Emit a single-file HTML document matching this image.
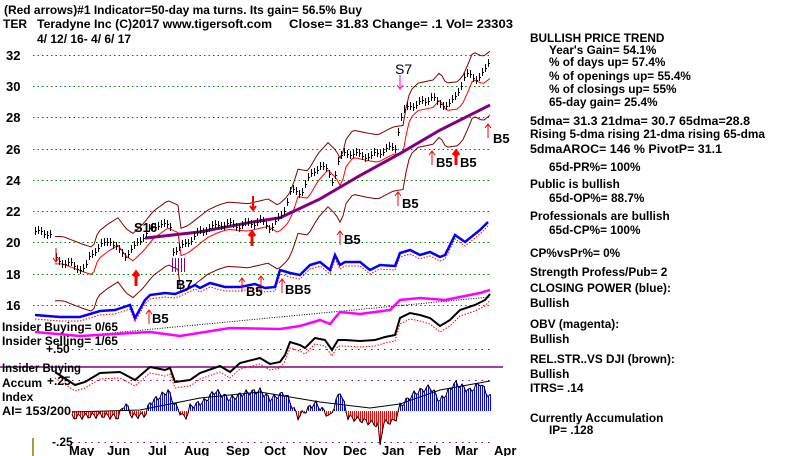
<!DOCTYPE html>
<html><head><meta charset="utf-8"><style>
body{margin:0;background:#fff;}
svg{display:block;font-family:"Liberation Sans",Arial,sans-serif;font-weight:bold;}
.r text{font-size:11.8px;}
</style></head><body>
<svg id="s" width="800" height="456" viewBox="0 0 800 456" xmlns="http://www.w3.org/2000/svg">
<rect width="800" height="456" fill="#fff"/>
<g font-size="12" fill="#000">
<text x="4" y="14" textLength="358" lengthAdjust="spacingAndGlyphs">(Red arrows)#1 Indicator=50-day ma turns. Its gain= 56.5% Buy</text>
<text x="3" y="28">TER</text><text x="37" y="28" textLength="235" lengthAdjust="spacingAndGlyphs">Teradyne Inc  (C)2017 www.tigersoft.com</text>
<text x="289" y="28" textLength="224" lengthAdjust="spacingAndGlyphs">Close=  31.83  Change= .1 Vol= 23303</text>
<text x="37" y="43">4/ 12/ 16- 4/ 6/ 17</text>
</g>
<g font-size="13" fill="#000">
<text x="6" y="60">32</text><text x="6" y="91">30</text><text x="6" y="122">28</text><text x="6" y="154">26</text>
<text x="6" y="185">24</text><text x="6" y="216">22</text><text x="6" y="247">20</text><text x="6" y="279">18</text><text x="6" y="310">16</text>
</g>
<g stroke="#008000" stroke-dasharray="1.5 3" stroke-width="1">
<line x1="33" x2="492" y1="55.5" y2="55.5"/><line x1="33" x2="492" y1="86.5" y2="86.5"/><line x1="33" x2="492" y1="117.5" y2="117.5"/>
<line x1="33" x2="492" y1="149.5" y2="149.5"/><line x1="33" x2="492" y1="180.5" y2="180.5"/><line x1="33" x2="492" y1="211.5" y2="211.5"/>
<line x1="33" x2="492" y1="242.5" y2="242.5"/><line x1="33" x2="492" y1="274.5" y2="274.5"/><line x1="33" x2="492" y1="305.5" y2="305.5"/>
</g>
<g stroke="#800080" stroke-dasharray="1.5 5"><line x1="72" x2="492" y1="349.5" y2="349.5"/><line x1="72" x2="492" y1="380.5" y2="380.5"/><line x1="72" x2="492" y1="442.5" y2="442.5"/></g>
<line x1="0" x2="503" y1="367" y2="367" stroke="#800080" stroke-width="1.5"/>
<line x1="33" x2="33" y1="438" y2="456" stroke="#808000" stroke-width="1.5"/>
<g id="dyn"></g>
<g font-size="12" fill="#000">
<text x="2" y="331" textLength="116" lengthAdjust="spacingAndGlyphs">Insider Buying= 0/65</text>
<text x="2" y="345" textLength="116" lengthAdjust="spacingAndGlyphs">Insider Selling= 1/65</text>
<text x="46" y="353">+.50</text>
<text x="2" y="372" textLength="79" lengthAdjust="spacingAndGlyphs">Insider Buying</text>
<text x="2" y="387">Accum</text><text x="47" y="385">+.25</text>
<text x="2" y="401">Index</text>
<text x="2" y="415" textLength="69" lengthAdjust="spacingAndGlyphs">AI= 153/200</text>
<text x="52" y="446">-.25</text>
</g>
<g font-size="13" fill="#000">
<text x="69" y="455">May</text><text x="107" y="455">Jun</text><text x="148" y="455">Jul</text><text x="184" y="455">Aug</text>
<text x="226" y="455">Sep</text><text x="264" y="455">Oct</text><text x="303" y="455">Nov</text><text x="343" y="455">Dec</text>
<text x="382" y="455">Jan</text><text x="418" y="455">Feb</text><text x="455" y="455">Mar</text><text x="494" y="455">Apr</text>
<text x="134" y="232">S16</text><text x="176" y="289">B7</text><text x="246" y="296">B5</text><text x="285" y="294">BB5</text>
<text x="152" y="323">B5</text><text x="344" y="244">B5</text><text x="402" y="208">B5</text>
<text x="436" y="167">B5</text><text x="460" y="167">B5</text><text x="493" y="143">B5</text>
<text x="395" y="74" font-size="14" font-weight="normal">S7</text>
</g>
<g class="r" fill="#000">
<text x="530" y="42">BULLISH PRICE TREND</text>
<text x="549" y="54">Year's Gain= 54.1%</text>
<text x="549" y="66">% of days up= 57.4%</text>
<text x="549" y="80">% of openings up= 55.4%</text>
<text x="549" y="93">% of closings up= 55%</text>
<text x="549" y="106">65-day gain= 25.4%</text>
<text x="530" y="125" textLength="220" lengthAdjust="spacingAndGlyphs">5dma= 31.3 21dma= 30.7 65dma=28.8</text>
<text x="530" y="138" textLength="235" lengthAdjust="spacingAndGlyphs">Rising 5-dma rising 21-dma rising 65-dma</text>
<text x="530" y="153" textLength="192" lengthAdjust="spacingAndGlyphs">5dmaAROC= 146 %  PivotP= 31.1</text>
<text x="549" y="171">65d-PR%= 100%</text>
<text x="530" y="188">Public is bullish</text>
<text x="549" y="202">65d-OP%= 88.7%</text>
<text x="530" y="220">Professionals are bullish</text>
<text x="549" y="234">65d-CP%= 100%</text>
<text x="530" y="257">CP%vsPr%=  0%</text>
<text x="530" y="276">Strength Profess/Pub= 2</text>
<text x="530" y="292">CLOSING POWER (blue):</text>
<text x="530" y="307">Bullish</text>
<text x="530" y="328">OBV (magenta):</text>
<text x="530" y="343">Bullish</text>
<text x="530" y="363">REL.STR..VS DJI (brown):</text>
<text x="530" y="378">Bullish</text>
<text x="530" y="392">ITRS= .14</text>
<text x="530" y="422">Currently Accumulation</text>
<text x="549" y="434">IP=  .128</text>
</g>
</svg>
<script>
var NS="http://www.w3.org/2000/svg",g=document.getElementById("dyn");
function el(t,a){var e=document.createElementNS(NS,t);for(var k in a)e.setAttribute(k,a[k]);g.appendChild(e);return e;}
function interp(pts,x){for(var i=0;i<pts.length-1;i++){if(x>=pts[i][0]&&x<=pts[i+1][0]){var t=(x-pts[i][0])/(pts[i+1][0]-pts[i][0]);return pts[i][1]+t*(pts[i+1][1]-pts[i][1]);}}return pts[pts.length-1][1];}
function line(pts,c,w,d){el("polyline",{points:pts.map(p=>p.join(",")).join(" "),fill:"none",stroke:c,"stroke-width":w,"stroke-dasharray":d||""});}
function py(p){return 55+(32-p)*15.65;}
var price=[[35,20.7],[52,20.6],[55,19],[75,18.5],[85,18.3],[90,19.3],[100,19.8],[110,20.2],[118,19.5],[125,19.2],[130,19.5],[135,19.8],[145,20.6],[160,21.3],[170,21],[172,19.5],[180,19.7],[190,20.2],[200,20.7],[210,21],[220,21.2],[240,21.1],[260,21.4],[270,21.0],[280,21.6],[285,22.3],[290,23.3],[300,23.2],[310,24.3],[320,25],[328,24.5],[333,23.9],[338,25.2],[345,25.8],[360,25.6],[370,25.5],[385,26],[395,26.1],[398,27.2],[402,28.3],[410,28.8],[425,29],[432,29.5],[438,28.8],[450,28.9],[455,29.3],[460,30],[465,30.8],[475,30.5],[485,31],[490,31.8]];
var up=[],lo=[],ma21=[];
for(var x=55;x<=490;x+=3){var q=interp(price,Math.max(55,x-8));
ma21.push([x,py(q-0.35)]);up.push([x,py(q+1.4)]);lo.push([x,py(q-2.7)]);}
line(up,"#800000",1);line(lo,"#800000",1);line(ma21,"#ff0000",1);
var m65=[[145,20.3],[200,20.7],[250,21.3],[280,21.6],[320,22.8],[360,24.3],[400,25.7],[440,27.2],[490,28.8]];
line(m65.map(p=>[p[0],py(p[1])]),"#800080",3);
for(var x=35;x<=490;x+=3){if(x>52&&x<56)continue;var p=interp(price,x)+Math.sin(x*1.7)*0.15;var y=Math.round(py(p));
el("line",{x1:x+.5,x2:x+.5,y1:y-4,y2:y+4,stroke:"#000","stroke-width":1});el("line",{x1:x,x2:x+2,y1:y+.5,y2:y+.5,stroke:"#000"});}
var blue=[[35,315],[60,317],[80,317],[100,311],[115,310],[130,305],[135,318],[145,300],[150,295],[165,293],[175,294],[185,290],[195,285],[200,288],[210,283],[225,287],[240,287],[255,284],[265,288],[275,287],[280,270],[290,273],[300,275],[310,265],[320,262],[330,270],[335,255],[340,265],[345,262],[360,262],[370,270],[380,265],[395,266],[400,253],[410,250],[420,255],[430,252],[440,257],[445,255],[455,235],[465,242],[480,230],[488,222]];
line(blue.map(p=>[p[0],p[1]+4]),"#ff0000",1,"1.5 1.5");line(blue,"#0000ff",2.5);
var mag=[[35,332],[80,336],[150,332],[180,336],[230,328],[280,329],[300,326],[320,320],[330,324],[340,312],[360,314],[390,310],[400,300],[420,298],[445,300],[480,293],[490,290]];
line([[80,336],[490,297]],"#000",1,"1 1.5");line(mag,"#ff00ff",2.5);
var blk=[[55,372],[75,385],[85,382],[100,373],[120,372],[135,380],[150,367],[165,370],[170,368],[175,382],[190,380],[200,373],[220,366],[230,372],[240,363],[260,358],[270,364],[280,362],[285,355],[290,342],[300,345],[305,348],[315,338],[325,340],[332,350],[338,340],[345,340],[360,341],[375,340],[385,337],[395,335],[400,318],[410,313],[420,315],[430,318],[440,326],[450,320],[460,310],[475,305],[485,300],[490,294]];
line(blk.map(p=>[p[0],p[1]+6]),"#ff0000",1,"1.5 1.5");line(blk,"#000",2);
var ai=[[72,-6],[100,-4],[118,-6],[125,8],[132,-5],[145,-4],[150,8],[168,20],[175,6],[185,-8],[190,4],[205,10],[215,20],[230,12],[245,18],[260,20],[270,12],[285,18],[298,-6],[315,8],[330,-6],[340,20],[348,-6],[365,-10],[378,-14],[380,-35],[383,-12],[395,-10],[400,5],[415,18],[430,24],[440,10],[455,28],[470,20],[480,28],[488,16],[490,14]];
var base=411,pts=[];
for(var x=72;x<=490;x+=2){var v=interp(ai,x)+Math.sin(x*0.9)*3;pts.push([x,base-v]);
el("line",{x1:x+.5,x2:x+.5,y1:base,y2:base-v,stroke:v>0?"#0000ff":"#ff0000","stroke-width":1});}
line(pts,"#000",1);
line([[72,412],[140,410],[200,398],[260,392],[320,402],[370,408],[400,404],[440,390],[490,381]],"#000",1);
function arr(x,y,dn,c,w){var d=dn?1:-1;el("line",{x1:x,x2:x,y1:y,y2:y+d*14,stroke:c,"stroke-width":w||1});
el("polyline",{points:(x-3)+","+(y+d*10)+" "+x+","+(y+d*14)+" "+(x+3)+","+(y+d*10),fill:"none",stroke:c,"stroke-width":w||1});}
arr(136,286,false,"#ff0000",3);arr(252,246,false,"#ff0000",3);arr(149,324,false,"#ff0000");arr(242,292,false,"#ff0000");
arr(261,290,false,"#ff0000");arr(282,293,false,"#ff0000");arr(340,245,false,"#ff0000");arr(398,206,false,"#ff0000");
arr(432,165,false,"#ff0000");arr(456,165,false,"#ff0000",3);arr(488,138,false,"#ff0000");arr(253,196,true,"#ff0000",2);
arr(56,248,true,"#ff0000");arr(400,75,true,"#ff00ff");
for(var x=172;x<=186;x+=3)el("line",{x1:x+.5,x2:x+.5,y1:258,y2:272,stroke:"#800080","stroke-width":1});
</script>
</body></html>
